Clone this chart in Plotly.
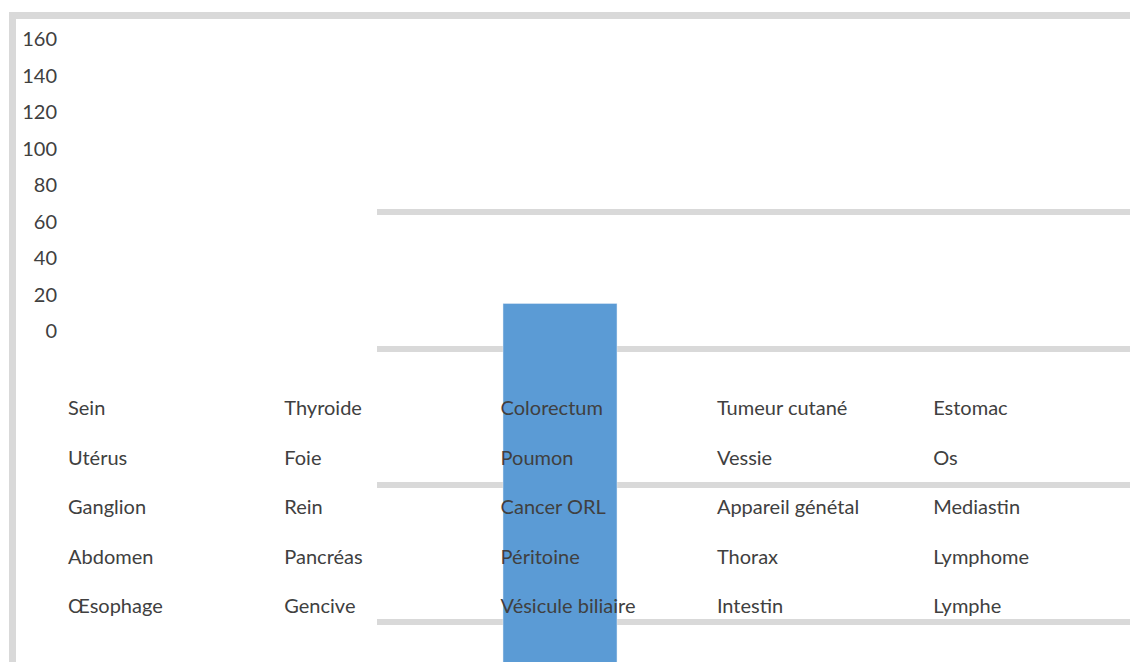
import numpy as np
import plotly.graph_objects as go

# y-axis tick values shown on the left
y_ticks = [0, 20, 40, 60, 80, 100, 120, 140, 160]

# category labels, read row by row (5 per row)
categories = [
    "Sein", "Thyroide", "Colorectum", "Tumeur cutané", "Estomac",
    "Utérus", "Foie", "Poumon", "Vessie", "Os",
    "Ganglion", "Rein", "Cancer ORL", "Appareil génétal", "Mediastin",
    "Abdomen", "Pancréas", "Péritoine", "Thorax", "Lymphome",
    "Œsophage", "Gencive", "Vésicule biliaire", "Intestin", "Lymphe",
]

# the single visible bar and the gridline levels of the inner plot
bar_category = ["Colorectum"]
bar_value = [3.33]
grid_levels = [1, 2, 3, 4]

W, H = 1130, 662
FONT = "Lato"
TXT = "#404040"
GRID = "#d9d9d9"
BLUE = "#5b9bd5"


def fx(px):
    return px / W


def fy(py):
    return 1 - py / H


n_cols = 5
col_idx = np.arange(len(categories)) % n_cols
row_idx = np.arange(len(categories)) // n_cols

fig = go.Figure()

# invisible trace so the left value axis is drawn
fig.add_trace(go.Scatter(x=[0], y=[0], mode="markers", marker=dict(opacity=0),
                         xaxis="x", yaxis="y", hoverinfo="skip", showlegend=False))

# gridlines of the inner plot (axis 2)
fig.add_trace(go.Scatter(x=[0], y=[0], mode="markers", marker=dict(opacity=0),
                         xaxis="x2", yaxis="y2", hoverinfo="skip", showlegend=False))

# the blue bar
fig.add_trace(go.Bar(x=bar_category, y=bar_value, marker_color=BLUE,
                     xaxis="x3", yaxis="y2", showlegend=False))

# category labels
fig.add_trace(go.Scatter(x=col_idx, y=row_idx, text=categories, mode="text",
                         textposition="middle right",
                         textfont=dict(family=FONT, size=20, color=TXT),
                         xaxis="x4", yaxis="y4", hoverinfo="skip", showlegend=False))

g1, gstep = 622, 136.7      # pixel position of gridline level 1 and spacing
y2_lo = 1 + (g1 - 662) / gstep
y2_hi = 1 + (g1 - 190) / gstep
c0, cstep = 68, 216.3       # label columns
r0, rstep = 410, 49.5       # label rows

fig.update_layout(
    width=W, height=H,
    margin=dict(l=0, r=0, t=0, b=0, autoexpand=False),
    paper_bgcolor="white", plot_bgcolor="rgba(0,0,0,0)",
    showlegend=False,
    bargap=0.5,
    xaxis=dict(domain=[fx(58), 1], visible=False, range=[0, 1]),
    yaxis=dict(domain=[fy(331), fy(39)], range=[0, 160], automargin=False,
               tickvals=y_ticks, showgrid=False, zeroline=False, showline=False,
               ticks="", tickfont=dict(family=FONT, size=20, color=TXT)),
    xaxis2=dict(domain=[fx(377), 1], visible=False, range=[0, 1]),
    yaxis2=dict(domain=[0, fy(190)], range=[y2_lo, y2_hi], tickvals=grid_levels,
                showgrid=True, gridcolor=GRID, gridwidth=6, zeroline=False,
                showticklabels=False, ticks="", anchor="x2", automargin=False),
    xaxis3=dict(domain=[fx(446), fx(674)], visible=False, anchor="y2"),
    xaxis4=dict(domain=[0, 1], visible=False,
                range=[-c0 / cstep, (W - c0) / cstep]),
    yaxis4=dict(domain=[0, 1], visible=False,
                range=[(H - r0) / rstep, -r0 / rstep]),
    shapes=[dict(type="rect", xref="paper", yref="paper",
                 x0=fx(12.5), x1=1.05, y0=-0.05, y1=fy(15.5),
                 line=dict(color=GRID, width=7), layer="below")],
)

# drop the default page margin so the figure fills the window
fig.write_html("out.html",
               config={"displayModeBar": False},
               post_script="document.body.style.margin='0';document.body.style.overflow='hidden';")
